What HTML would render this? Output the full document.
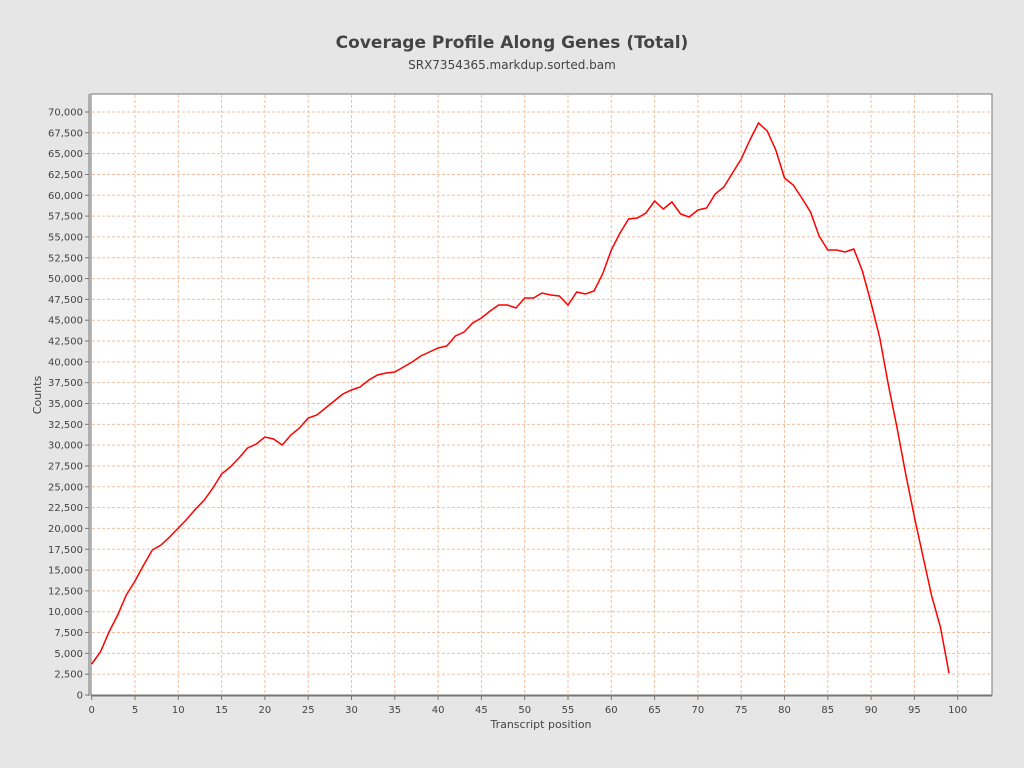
<!DOCTYPE html>
<html><head><meta charset="utf-8"><style>
html,body{margin:0;padding:0;background:#e6e6e6;}
svg{display:block;font-family:"DejaVu Sans","Liberation Sans",sans-serif;}
</style></head><body>
<svg width="1024" height="768" xmlns="http://www.w3.org/2000/svg">
<rect width="1024" height="768" fill="#e6e6e6"/>
<text x="512" y="48" text-anchor="middle" font-size="17" font-weight="bold" fill="#444">Coverage Profile Along Genes (Total)</text>
<text x="512" y="69" text-anchor="middle" font-size="12" fill="#444">SRX7354365.markdup.sorted.bam</text>
<rect x="91" y="94" width="901" height="601" fill="#fff" stroke="#777" stroke-width="1"/>
<g id="grid" stroke="#f0c0a0" stroke-width="1" stroke-dasharray="3,2"></g>
<g id="labels" font-size="10" fill="#444"></g>
<line x1="89" y1="94" x2="89" y2="696" stroke="#777"/>
<line x1="91" y1="696" x2="992" y2="696" stroke="#777"/>
<polyline id="line" fill="none" stroke="#ff0000" stroke-width="1.5"/>
<text x="541" y="728" text-anchor="middle" font-size="11" fill="#444">Transcript position</text>
<text x="41" y="395" text-anchor="middle" font-size="11" fill="#444" transform="rotate(-90 41 395)">Counts</text>
</svg>
<script>
var ns="http://www.w3.org/2000/svg";
var g=document.getElementById('grid'),L=document.getElementById('labels');
function el(p,t,a,txt){var e=document.createElementNS(ns,t);for(var k in a)e.setAttribute(k,a[k]);if(txt!==undefined)e.textContent=txt;p.appendChild(e);return e;}
for(var i=0;i<=20;i++){var x=91.7+8.66*5*i;
 if(i>0)el(g,'line',{x1:x,y1:95,x2:x,y2:695});
 el(L,'line',{x1:x,y1:696,x2:x,y2:700,stroke:'#777'});
 el(L,'text',{x:x,y:713,'text-anchor':'middle'},String(i*5));}
for(var j=0;j<=28;j++){var y=695-j*583/28;
 if(j>0)el(g,'line',{x1:92,y1:y,x2:992,y2:y});
 el(L,'line',{x1:85,y1:y,x2:89,y2:y,stroke:'#777'});
 el(L,'text',{x:83,y:y+3.5,'text-anchor':'end'},(j*2500).toLocaleString('en-US'));}
var ys=[664,652,632,615,595,581,565,550,545,537,528,519,509,500,488,474,467,458,448,444,437,439,445,435,428,418,415,408,401,394,390,387,380,375,373,372,367,362,356,352,348,346,336,332,323,318,311,305,305,308,298,298,293,295,296,305,292,294,291,274,250,233,219,218,213,201,209,202,214,217,210,208,194,187,173,159,140,123,131,150,178,185,198,212,236,250,250,252,249,271,303,338,385,428,474,517,557,596,627,673];
document.getElementById('line').setAttribute('points',ys.map(function(y,i){return (91.7+8.66*i).toFixed(1)+','+y;}).join(' '));
</script>
</body></html>
